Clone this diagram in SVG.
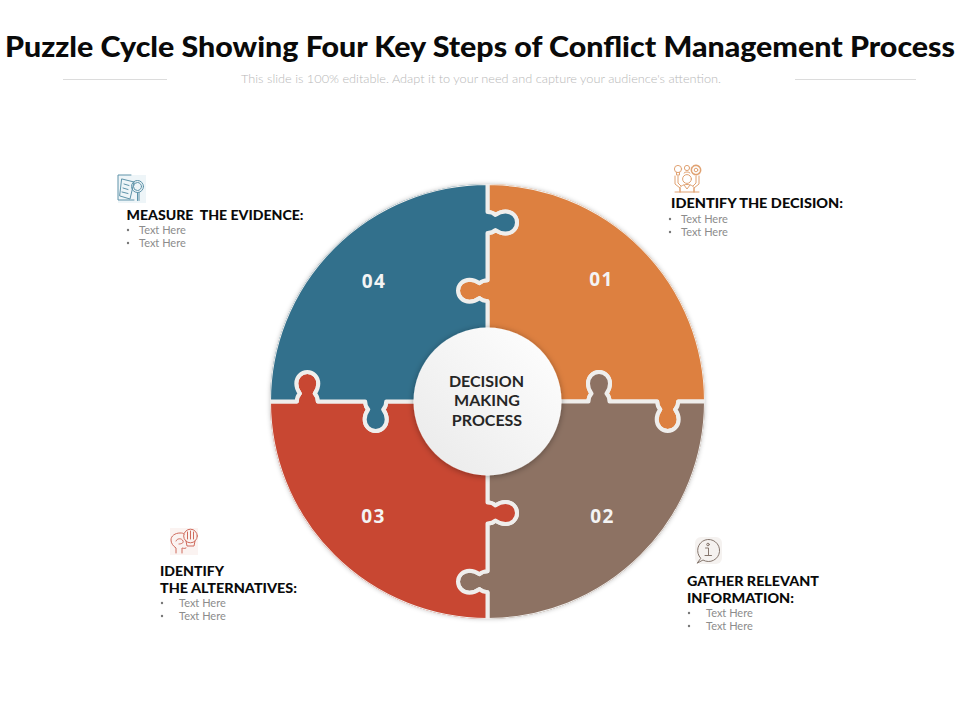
<svg xmlns="http://www.w3.org/2000/svg" width="960" height="720" viewBox="0 0 960 720">
<style>
text{font-family:Lato,"Liberation Sans",sans-serif}
.title{font-size:28px;font-weight:900;fill:#0a0a0a}
.sub{font-size:12px;font-weight:300;fill:#b8b8b8}
.rule{stroke:#dcdcdc;stroke-width:1}
.piece{stroke:#efeeec;stroke-width:4;stroke-linejoin:round}
.num{font-family:"Open Sans","Liberation Sans",sans-serif;font-size:19px;font-weight:700;fill:#f4f4f4;text-anchor:middle;letter-spacing:1.5px}
.hub{font-size:16px;font-weight:700;fill:#262626;text-anchor:middle}
.head{font-size:14px;font-weight:900;fill:#0a0a0a}
.item{font-size:11px;fill:#8c8c8c}
.dot{fill:#777}
.ic{fill:none;stroke-width:1;stroke-linecap:round;stroke-linejoin:round}
</style>
<defs>
<filter id="soft" x="-10%" y="-10%" width="120%" height="120%"><feDropShadow dx="0" dy="0" stdDeviation="2" flood-color="#000" flood-opacity=".22"/></filter>
<filter id="hubs" x="-20%" y="-20%" width="140%" height="140%"><feDropShadow dx="0" dy="1" stdDeviation="3" flood-color="#000" flood-opacity=".35"/></filter>
<linearGradient id="hubg" x1="1" y1="0" x2="0" y2="1"><stop offset="0" stop-color="#ffffff"/><stop offset="1" stop-color="#e9e9e9"/></linearGradient>
<clipPath id="disc"><circle cx="487.5" cy="401.5" r="217.5"/></clipPath>
</defs>
<rect width="960" height="720" fill="#fff"/>
<g id="header">
<text class="title" x="5" y="57" textLength="950" lengthAdjust="spacingAndGlyphs">Puzzle Cycle Showing Four Key Steps of Conflict Management Process</text>
<line class="rule" x1="63" y1="79.5" x2="167" y2="79.5"/>
<line class="rule" x1="795" y1="79.5" x2="916" y2="79.5"/>
<text class="sub" x="241" y="83" textLength="480" lengthAdjust="spacingAndGlyphs">This slide is 100% editable. Adapt it to your need and capture your audience's attention.</text>
</g>
<g id="puzzle" filter="url(#soft)"><g clip-path="url(#disc)">
<path id="piece-01" class="piece" fill="#DD8040" d="M487.5,183A218.5,218.5 0 0 1 706,401.5L678.2,401.5c0,3 -1,6 -3,8c1.5,2 3.5,6 3.5,10c0,6.5 -4.8,11.5 -11,11.5c-6.2,0 -11,-5 -11,-11.500c0,-4 2,-8 3.500,-10c-2,-2 -3,-5 -3,-8L609.500,401.500c0,-3 -1,-6 -3,-8c1.500,-2 3.500,-6 3.500,-10c0,-6.500 -4.800,-11.500 -11,-11.500c-6.200,0 -11,5 -11,11.500c0,4 2,8 3.500,10c-2,2 -3,5 -3,8L487.500,401.500L487.500,301.200c-3,0 -6,-1 -8,-3c-2,1.500 -6,3.500 -10,3.500c-6.500,0 -11.500,-4.800 -11.500,-11c0,-6.200 5,-11 11.500,-11c4,0 8,2 10,3.500c2,-2 5,-3 8,-3L487.500,233c3,0 6,-1 8,-3c2,1.500 6,3.500 10,3.500c6.500,0 11.500,-4.800 11.500,-11c0,-6.200 -5,-11 -11.500,-11c-4,0 -8,2 -10,3.500c-2,-2 -5,-3 -8,-3Z"/>
<path id="piece-02" class="piece" fill="#8D7264" d="M706,401.500A218.500,218.500 0 0 1 487.500,620L487.500,592.200c-3,0 -6,-1 -8,-3c-2,1.500 -6,3.500 -10,3.500c-6.500,0 -11.500,-4.800 -11.500,-11c0,-6.200 5,-11 11.500,-11c4,0 8,2 10,3.500c2,-2 5,-3 8,-3L487.500,523.500c3,0 6,-1 8,-3c2,1.500 6,3.500 10,3.500c6.500,0 11.500,-4.800 11.500,-11c0,-6.200 -5,-11 -11.500,-11c-4,0 -8,2 -10,3.500c-2,-2 -5,-3 -8,-3L487.500,401.500L588.500,401.500c0,-3 1,-6 3,-8c-1.500,-2 -3.500,-6 -3.500,-10c0,-6.500 4.800,-11.500 11,-11.500c6.200,0 11,5 11,11.500c0,4 -2,8 -3.500,10c2,2 3,5 3,8L657.200,401.500c0,3 1,6 3,8c-1.500,2 -3.500,6 -3.500,10c0,6.500 4.800,11.500 11,11.500c6.200,0 11,-5 11,-11.500c0,-4 -2,-8 -3.500,-10c2,-2 3,-5 3,-8Z"/>
<path id="piece-03" class="piece" fill="#C84632" d="M487.500,620A218.500,218.500 0 0 1 269,401.500L296.800,401.500c0,-3 1,-6 3,-8c-1.500,-2 -3.500,-6 -3.500,-10c0,-6.500 4.800,-11.500 11,-11.500c6.200,0 11,5 11,11.500c0,4 -2,8 -3.500,10c2,2 3,5 3,8L365.200,401.500c0,3 1,6 3,8c-1.500,2 -3.500,6 -3.500,10c0,6.500 4.800,11.500 11,11.500c6.200,0 11,-5 11,-11.500c0,-4 -2,-8 -3.500,-10c2,-2 3,-5 3,-8L487.500,401.500L487.500,502.500c3,0 6,1 8,3c2,-1.500 6,-3.500 10,-3.500c6.500,0 11.500,4.800 11.500,11c0,6.200 -5,11 -11.500,11c-4,0 -8,-2 -10,-3.500c-2,2 -5,3 -8,3L487.500,571.200c-3,0 -6,1 -8,3c-2,-1.500 -6,-3.500 -10,-3.500c-6.500,0 -11.500,4.800 -11.500,11c0,6.200 5,11 11.500,11c4,0 8,-2 10,-3.500c2,2 5,3 8,3Z"/>
<path id="piece-04" class="piece" fill="#33708C" d="M269,401.500A218.500,218.500 0 0 1 487.500,183L487.500,212c3,0 6,1 8,3c2,-1.500 6,-3.500 10,-3.500c6.500,0 11.500,4.800 11.500,11c0,6.200 -5,11 -11.500,11c-4,0 -8,-2 -10,-3.500c-2,2 -5,3 -8,3L487.500,280.200c-3,0 -6,1 -8,3c-2,-1.500 -6,-3.500 -10,-3.500c-6.500,0 -11.500,4.800 -11.500,11c0,6.200 5,11 11.500,11c4,0 8,-2 10,-3.500c2,2 5,3 8,3L487.500,401.500L386.200,401.500c0,3 -1,6 -3,8c1.500,2 3.500,6 3.500,10c0,6.500 -4.800,11.500 -11,11.500c-6.200,0 -11,-5 -11,-11.500c0,-4 2,-8 3.500,-10c-2,-2 -3,-5 -3,-8L317.800,401.500c0,-3 -1,-6 -3,-8c1.500,-2 3.500,-6 3.500,-10c0,-6.500 -4.800,-11.500 -11,-11.500c-6.200,0 -11,5 -11,11.500c0,4 2,8 3.500,10c-2,2 -3,5 -3,8Z"/>
</g></g>
<g id="numbers">
<text class="num" x="601.500" y="286">01</text>
<text class="num" x="602.500" y="523">02</text>
<text class="num" x="373.500" y="523">03</text>
<text class="num" x="374" y="288">04</text>
</g>
<g id="hub">
<circle cx="487.500" cy="401.500" r="74" fill="url(#hubg)" filter="url(#hubs)"/>
<text class="hub" x="486.500" y="387">DECISION</text>
<text class="hub" x="487" y="406">MAKING</text>
<text class="hub" x="487" y="426">PROCESS</text>
</g>
<g id="step-01">
<g class="ic" stroke="#E0A272">
<circle cx="678" cy="169" r="3.600"/><path d="M676.500,172.500v2.500h3v-2.500"/>
<circle cx="687" cy="168" r="2.600"/><path d="M684,173c1,-1.500 5,-1.500 6,0"/>
<circle cx="696" cy="170" r="4.600" stroke-width="1.600" stroke-dasharray="1.600 1"/><circle cx="696" cy="170" r="1.800"/>
<circle cx="687" cy="179" r="4.400"/><path d="M680,192v-4c0,-2 4,-3.500 7,-3.500c3,0 7,1.500 7,3.500v4M684,185l3,4l3,-4"/>
<path d="M675,176v8l5,4v4M678,176v7l3,3M699,176v8l-5,4v4M696,176v7l-3,3M675,192h24"/>
</g>
<text class="head" x="671" y="208" textLength="172" lengthAdjust="spacingAndGlyphs">IDENTIFY THE DECISION:</text>
<circle class="dot" cx="670" cy="219" r="1.200"/><text class="item" x="681" y="223">Text Here</text>
<circle class="dot" cx="670" cy="232" r="1.200"/><text class="item" x="681" y="236">Text Here</text>
</g>
<g id="step-02">
<rect x="695" y="537" width="27" height="27" rx="6" fill="#f5f2f0"/>
<g class="ic" stroke="#85766d">
<path d="M700.500,558A11,11 0 1 1 703,560L697.500,563Z"/>
<path d="M705.500,548h3v7.500M705,555.500h6.500"/><circle cx="708" cy="544.500" r="1.300"/>
</g>
<text class="head" x="687" y="586" textLength="132" lengthAdjust="spacingAndGlyphs">GATHER RELEVANT</text>
<text class="head" x="687" y="603" textLength="107" lengthAdjust="spacingAndGlyphs">INFORMATION:</text>
<circle class="dot" cx="689" cy="613" r="1.200"/><text class="item" x="706" y="617">Text Here</text>
<circle class="dot" cx="689" cy="626" r="1.200"/><text class="item" x="706" y="630">Text Here</text>
</g>
<g id="step-03">
<rect x="170" y="528" width="28" height="27" fill="#fbf3f1"/>
<g class="ic" stroke="#CF6A5C">
<path d="M176,553v-5c-3,-2 -5,-5 -5,-8c0,-4 4,-7 9,-7c2,0 3,0 4,1M186,548c-2,1 -3,0 -4,0l0,5"/>
<path d="M176,541c1,-3 6,-3 7,0c1,2 -2,3 -4,3"/>
<circle cx="190.500" cy="536" r="6.800"/>
<path d="M186,541l1,5h7l1,-5M187.500,532v7M190.500,531v8M193.500,532v7"/>
</g>
<text class="head" x="160" y="576" textLength="64" lengthAdjust="spacingAndGlyphs">IDENTIFY</text>
<text class="head" x="160" y="593" textLength="137" lengthAdjust="spacingAndGlyphs">THE ALTERNATIVES:</text>
<circle class="dot" cx="162" cy="603" r="1.200"/><text class="item" x="179" y="607">Text Here</text>
<circle class="dot" cx="162" cy="616" r="1.200"/><text class="item" x="179" y="620">Text Here</text>
</g>
<g id="step-04">
<rect x="118" y="175" width="28" height="28" fill="#eef5f8"/>
<g class="ic" stroke="#5E93A9">
<path d="M131,175H118V200H134"/>
<path d="M122,179l12,3l-4,17l-10,-3Z"/>
<path d="M124,184l5,1.500M123,188l5,1.500M122,192l6,1.500"/>
<circle cx="137.500" cy="186.500" r="6"/><circle cx="137.500" cy="186.500" r="4"/>
<path d="M137.500,192.500v8M139,192.500v8"/>
</g>
<text class="head" x="126.500" y="220" textLength="177" lengthAdjust="spacingAndGlyphs" xml:space="preserve">MEASURE  THE EVIDENCE:</text>
<circle class="dot" cx="128" cy="230" r="1.200"/><text class="item" x="139" y="234">Text Here</text>
<circle class="dot" cx="128" cy="243" r="1.200"/><text class="item" x="139" y="247">Text Here</text>
</g>
</svg>
